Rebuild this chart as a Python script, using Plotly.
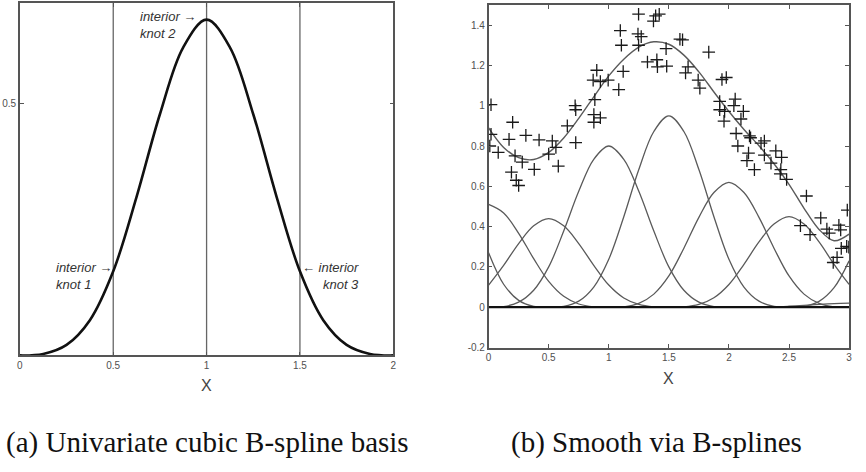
import plotly.graph_objects as go

W, H = 866, 472

# ---------------- Left panel data ----------------
left_x = [0, 0.125, 0.25, 0.375, 0.5, 0.625, 0.75, 0.875, 1.0,
          1.125, 1.25, 1.375, 1.5, 1.625, 1.75, 1.875, 2.0]
left_basis = [0, 0.003, 0.021, 0.070, 0.167, 0.315, 0.479, 0.612, 0.667,
              0.612, 0.479, 0.315, 0.167, 0.070, 0.021, 0.003, 0]
interior_knots = [0.5, 1.0, 1.5]
left_xticks = [0, 0.5, 1, 1.5, 2]
left_xticklabels = ["0", "0.5", "1", "1.5", "2"]
left_yticks = [0.5]
left_yticklabels = ["0.5"]

# ---------------- Right panel data ----------------
grid_x = [0, 0.125, 0.25, 0.375, 0.5, 0.625, 0.75, 0.875, 1.0, 1.125, 1.25, 1.375,
          1.5, 1.625, 1.75, 1.875, 2.0, 2.125, 2.25, 2.375, 2.5, 2.625, 2.75, 2.875, 3.0]
basis_m05 = [0.27, 0.114, 0.034, 0.004, 0, 0, 0, 0, 0, 0, 0, 0, 0,
             0, 0, 0, 0, 0, 0, 0, 0, 0, 0, 0, 0]
basis_00 = [0.51, 0.468, 0.367, 0.241, 0.128, 0.054, 0.016, 0.002, 0, 0, 0, 0, 0,
            0, 0, 0, 0, 0, 0, 0, 0, 0, 0, 0, 0]
basis_05 = [0.11, 0.208, 0.316, 0.404, 0.44, 0.404, 0.316, 0.208, 0.11, 0.046, 0.014, 0.002, 0,
            0, 0, 0, 0, 0, 0, 0, 0, 0, 0, 0, 0]
basis_10 = [0, 0.003, 0.025, 0.084, 0.20, 0.378, 0.575, 0.734, 0.80, 0.734, 0.575, 0.378, 0.20,
            0.084, 0.025, 0.003, 0, 0, 0, 0, 0, 0, 0, 0, 0]
basis_15 = [0, 0, 0, 0, 0, 0.004, 0.030, 0.100, 0.238, 0.449, 0.683, 0.872, 0.95,
            0.872, 0.683, 0.449, 0.238, 0.100, 0.030, 0.004, 0, 0, 0, 0, 0]
basis_20 = [0, 0, 0, 0, 0, 0, 0, 0, 0, 0.002, 0.019, 0.065, 0.155,
            0.293, 0.446, 0.569, 0.62, 0.569, 0.446, 0.293, 0.155, 0.065, 0.019, 0.002, 0]
basis_25 = [0, 0, 0, 0, 0, 0, 0, 0, 0, 0, 0, 0, 0,
            0.002, 0.014, 0.047, 0.113, 0.213, 0.324, 0.413, 0.45, 0.413, 0.324, 0.213, 0.113]
basis_30 = [0, 0, 0, 0, 0, 0, 0, 0, 0, 0, 0, 0, 0,
            0, 0, 0, 0, 0, 0.001, 0.002, 0.005, 0.009, 0.014, 0.018, 0.02]
basis_35 = [0, 0, 0, 0, 0, 0, 0, 0, 0, 0, 0, 0, 0,
            0, 0, 0, 0, 0, 0, 0, 0, 0.004, 0.029, 0.097, 0.23]
fit_y = [0.89, 0.793, 0.742, 0.733, 0.768, 0.84, 0.937, 1.044, 1.148, 1.231, 1.291, 1.317, 1.305,
         1.251, 1.168, 1.068, 0.971, 0.882, 0.801, 0.712, 0.61, 0.491, 0.386, 0.33, 0.363]
bases = [basis_m05, basis_00, basis_05, basis_10, basis_15, basis_20, basis_25, basis_30, basis_35]

pts_x = [0.02, 0.02, 0.01, 0.08, 0.20, 0.17, 0.22, 0.19, 0.23, 0.25, 0.31, 0.28, 0.38, 0.42,
         0.53, 0.56, 0.50, 0.58, 0.725, 0.655, 0.72, 0.725,
         0.87, 0.90, 0.93, 0.995, 0.884, 0.876, 0.876, 0.93, 1.083, 1.12, 1.096, 1.105,
         1.243, 1.27, 1.248, 1.248, 1.322, 1.372, 1.39, 1.42, 1.40, 1.405, 1.482, 1.477,
         1.592, 1.614, 1.639, 1.66, 1.744, 1.758, 1.832, 1.942, 1.978, 1.923, 1.923, 1.964,
         1.959, 2.052, 2.041, 2.12, 2.10, 2.06, 2.074, 2.171, 2.18, 2.267, 2.295, 2.163,
         2.15, 2.212, 2.295, 2.35, 2.39, 2.438, 2.432, 2.427, 2.48,
         2.645, 2.764, 2.595, 2.675, 2.815, 2.835, 2.915, 2.93, 2.985, 2.935, 2.98, 2.998,
         2.90, 2.868]
pts_y = [1.005, 0.858, 0.80, 0.768, 0.918, 0.833, 0.751, 0.67, 0.63, 0.604, 0.853, 0.72, 0.684, 0.83,
         0.825, 0.793, 0.76, 0.70, 0.817, 0.90, 1.0, 0.98,
         1.127, 1.176, 1.12, 1.127, 1.03, 0.956, 0.918, 0.94, 1.08, 1.17, 1.373, 1.30,
         1.356, 1.343, 1.454, 1.30, 1.217, 1.42, 1.446, 1.454, 1.228, 1.193, 1.196, 1.283,
         1.33, 1.327, 1.163, 1.193, 1.127, 1.087, 1.266, 1.13, 1.14, 1.021, 0.98, 0.972,
         0.923, 1.033, 1.0, 0.972, 0.934, 0.862, 0.80, 0.85, 0.841, 0.814, 0.825, 0.765,
         0.727, 0.683, 0.755, 0.715, 0.776, 0.744, 0.683, 0.662, 0.634,
         0.552, 0.443, 0.405, 0.36, 0.388, 0.368, 0.407, 0.384, 0.482, 0.292, 0.302, 0.298,
         0.247, 0.222]

right_xticks = [0, 0.5, 1, 1.5, 2, 2.5, 3]
right_xticklabels = ["0", "0.5", "1", "1.5", "2", "2.5", "3"]
right_yticks = [-0.2, 0, 0.2, 0.4, 0.6, 0.8, 1.0, 1.2, 1.4]
right_yticklabels = ["-0.2", "0", "0.2", "0.4", "0.6", "0.8", "1", "1.2", "1.4"]

caption_a = "(a) Univariate cubic B-spline basis"
caption_b = "(b) Smooth via B-splines"

# ---------------- Figure ----------------
FRAME = "#555555"
CURVE = "#5a5a5a"
TICKFONT = dict(family="Liberation Sans, Arial, sans-serif", size=10, color="#505050")


def px_x(p):
    return p / W


def px_y(p):
    return 1 - p / H


fig = go.Figure()

# Left panel
fig.add_trace(go.Scatter(x=left_x, y=left_basis, mode="lines", xaxis="x", yaxis="y",
                         line=dict(color="#111111", width=2.6, shape="spline"),
                         showlegend=False, hoverinfo="skip"))
for k in interior_knots:
    fig.add_shape(type="line", xref="x", yref="y domain", x0=k, x1=k, y0=0, y1=1,
                  line=dict(color="#666666", width=1.3), layer="below")

# Right panel
for b in bases:
    fig.add_trace(go.Scatter(x=grid_x, y=b, mode="lines", xaxis="x2", yaxis="y2",
                             line=dict(color=CURVE, width=1.3, shape="spline"),
                             showlegend=False, hoverinfo="skip"))
fig.add_shape(type="line", xref="x2", yref="y2", x0=grid_x[0], x1=grid_x[-1], y0=0, y1=0,
              line=dict(color="#111111", width=2.2))
fig.add_trace(go.Scatter(x=grid_x, y=fit_y, mode="lines", xaxis="x2", yaxis="y2",
                         line=dict(color=CURVE, width=1.4, shape="spline"),
                         showlegend=False, hoverinfo="skip"))
fig.add_trace(go.Scatter(x=pts_x, y=pts_y, mode="markers", xaxis="x2", yaxis="y2",
                         marker=dict(symbol="cross-thin", size=9,
                                     line=dict(color="#1a1a1a", width=1.3)),
                         showlegend=False, hoverinfo="skip"))

axis_common = dict(showline=True, linecolor=FRAME, linewidth=1.5, mirror="ticks",
                   ticks="inside", ticklen=4, tickcolor=FRAME, tickwidth=1,
                   showgrid=False, zeroline=False, tickfont=TICKFONT, fixedrange=True)

fig.update_layout(
    width=W, height=H,
    margin=dict(l=0, r=0, t=0, b=0),
    paper_bgcolor="white", plot_bgcolor="white",
    xaxis=dict(domain=[px_x(17), px_x(393)], range=[0, 2], anchor="y",
               tickvals=left_xticks, ticktext=left_xticklabels, **axis_common),
    yaxis=dict(domain=[px_y(360), px_y(3)], range=[0, 0.7], anchor="x",
               tickvals=left_yticks, ticktext=left_yticklabels, **axis_common),
    xaxis2=dict(domain=[px_x(489), px_x(852)], range=[0, 3], anchor="y2",
                tickvals=right_xticks, ticktext=right_xticklabels, **axis_common),
    yaxis2=dict(domain=[px_y(352), px_y(5)], range=[-0.2, 1.5], anchor="x2",
                tickvals=right_yticks, ticktext=right_yticklabels, **axis_common),
)

ann_font = dict(family="Liberation Sans, DejaVu Sans, sans-serif", size=13, color="#333333")
annotations = [
    dict(text="<i>interior \u2192</i><br><i>knot 2</i>", x=px_x(136), y=px_y(25),
         xanchor="left", yanchor="middle", align="left"),
    dict(text="<i>interior \u2192</i><br><i>knot 1</i>", x=px_x(51), y=px_y(280),
         xanchor="left", yanchor="middle", align="left"),
    dict(text="<i>\u2190 interior</i><br><i>knot 3</i>", x=px_x(361), y=px_y(280),
         xanchor="right", yanchor="middle", align="right"),
]
for a in annotations:
    fig.add_annotation(xref="paper", yref="paper", showarrow=False, font=ann_font, **a)

# axis titles
fig.add_annotation(text="X", xref="paper", yref="paper", x=px_x(205), y=px_y(390),
                   showarrow=False, xanchor="center", yanchor="middle",
                   font=dict(family="Liberation Sans, sans-serif", size=16, color="#444444"))
fig.add_annotation(text="X", xref="paper", yref="paper", x=px_x(670), y=px_y(383),
                   showarrow=False, xanchor="center", yanchor="middle",
                   font=dict(family="Liberation Sans, sans-serif", size=16, color="#444444"))

# captions
cap_font = dict(family="Liberation Serif, DejaVu Serif, serif", size=29, color="#111111")
fig.add_annotation(text=caption_a, xref="paper", yref="paper", x=px_x(1), y=px_y(448),
                   showarrow=False, xanchor="left", yanchor="middle", font=cap_font)
fig.add_annotation(text=caption_b, xref="paper", yref="paper", x=px_x(510), y=px_y(448),
                   showarrow=False, xanchor="left", yanchor="middle", font=cap_font)

fig.write_html("out.html", config={"displayModeBar": False})
